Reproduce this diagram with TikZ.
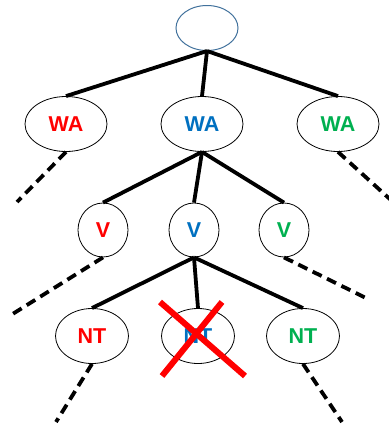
\documentclass[tikz,border=0pt]{standalone}
\usepackage{fontspec}
\setmainfont{Liberation Sans}
\usetikzlibrary{shapes.geometric}
\definecolor{CSPred}{RGB}{255,0,0}
\definecolor{CSPblue}{RGB}{0,112,192}
\definecolor{CSPgreen}{RGB}{0,176,80}
\definecolor{CSProot}{RGB}{65,113,156}
\tikzstyle{var}   = [ellipse, draw, line width=0.8pt, inner sep=0pt,
                     font=\bfseries\fontsize{21.5}{21.5}\selectfont]
\tikzstyle{Vwa}   = [var, minimum width=82pt, minimum height=55pt]
\tikzstyle{Vv}    = [var, minimum width=50pt, minimum height=54pt]
\tikzstyle{Vnt}   = [var, minimum width=73pt, minimum height=55pt]
\tikzstyle{edge}  = [line width=3.8pt]
\tikzstyle{prune} = [line width=3.8pt, dash pattern=on 10pt off 6pt]
\tikzstyle{fail}  = [line width=6pt, draw=CSPred]

\begin{document}
\begin{tikzpicture}[x=1pt, y=-1pt]
  \useasboundingbox (0,0) rectangle (389,424);
  \node[ellipse, draw=CSProot, line width=1pt, minimum width=62pt, minimum height=45pt] (root) at (207,28) {};
  % first variable
  \node[Vwa, text=CSPred]   (wa1) at (66,124)  {WA};
  \node[Vwa, text=CSPblue]  (wa2) at (202,124) {WA};
  \node[Vwa, text=CSPgreen] (wa3) at (338,124) {WA};
  % second variable
  \node[Vv, text=CSPred]   (v1) at (103,230) {V};
  \node[Vv, text=CSPblue]  (v2) at (194,230) {V};
  \node[Vv, text=CSPgreen] (v3) at (284,230) {V};
  % third variable
  \node[Vnt, text=CSPred]   (nt1) at (92,336)  {NT};
  \node[Vnt, text=CSPblue]  (nt2) at (198,336) {NT};
  \node[Vnt, text=CSPgreen] (nt3) at (303,336) {NT};
  % loose ends of the pruned branches
  \coordinate (d1) at (17,202);
  \coordinate (d2) at (392,201);
  \coordinate (d3) at (11,315);
  \coordinate (d4) at (370,300);
  \coordinate (d5) at (56,422);
  \coordinate (d6) at (342,422);

  \foreach \c in {wa1,wa2,wa3} \draw[edge] (root.south) -- (\c.north);
  \foreach \c in {v1,v2,v3} \draw[edge] (wa2.south) -- (\c.north);
  \foreach \c in {nt1,nt2,nt3} \draw[edge] (v2.south) -- (\c.north);

  \draw[prune] (wa1.south) -- (d1);
  \draw[prune] (wa3.south) -- (d2);
  \draw[prune] (v1.south) -- (d3);
  \draw[prune] (v3.south) -- (d4);
  \draw[prune] (nt1.south) -- (d5);
  \draw[prune] (nt3.south) -- (d6);

  % inconsistent assignment
  \draw[fail] ([shift={(-36,40)}]nt2.center) -- ([shift={(24,-34)}]nt2.center);
  \draw[fail] ([shift={(-38,-34)}]nt2.center) -- ([shift={(47,40)}]nt2.center);
\end{tikzpicture}
\end{document}
